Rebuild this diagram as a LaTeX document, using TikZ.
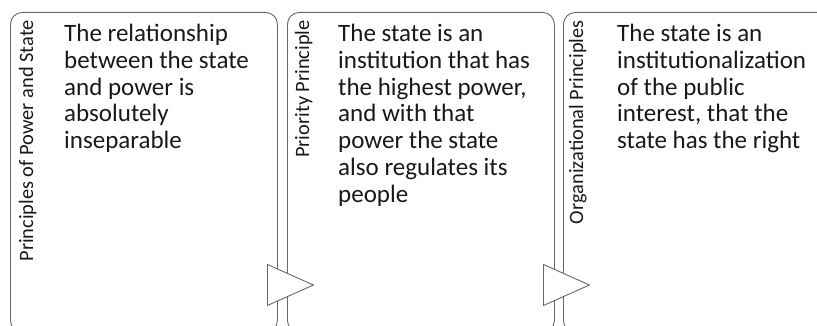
\documentclass[tikz,border=0pt]{standalone}
\usepackage{fontspec}
\setmainfont{Carlito}
\usetikzlibrary{shapes.geometric, positioning}
\tikzset{
    x=1pt, y=1pt,
    panel/.style = {draw=black!60, rounded corners=12pt, line width=0.9pt, minimum width=267pt, minimum height=320pt, anchor=north west, inner sep=0pt},
    pointer/.style = {isosceles triangle, isosceles triangle stretches, draw=black!60, fill=white, line width=0.9pt, minimum width=41pt, minimum height=46pt, inner sep=0pt, anchor=lower side},
    heading/.style = {rotate=90, anchor=base east, inner sep=0pt, text=black!90, font=\fontsize{20.4}{22}\selectfont},
    body/.style = {anchor=north west, align=left, inner sep=0pt, text=black!90, font=\fontsize{25}{26.8}\selectfont}
}
\begin{document}
\begin{tikzpicture}
  \useasboundingbox (0,0) rectangle (817,326);

  \node[panel] (p1) at (10,314) {};
  \node[panel] (p2) at (287,314) {};
  \node[panel] (p3) at (563,314) {};

  \node[pointer] (t1) at (267,41) {};
  \node[pointer] (t2) at (543,41) {};

  \node[heading] (h1) at (33,306) {Principles of Power and State};
  \node[heading] (h2) at (309,306) {Priority Principle};
  \node[heading] (h3) at (583,306) {Organizational Principles};

  \node[body] (b1) at (64,302) {The relationship\\between the state\\and power is\\absolutely\\inseparable};
  \node[body] (b2) at (338,302) {The state is an\\institution that has\\the highest power,\\and with that\\power the state\\also regulates its\\people};
  \node[body] (b3) at (617,302) {The state is an\\institutionalization\\of the public\\interest, that the\\state has the right};
\end{tikzpicture}
\end{document}
